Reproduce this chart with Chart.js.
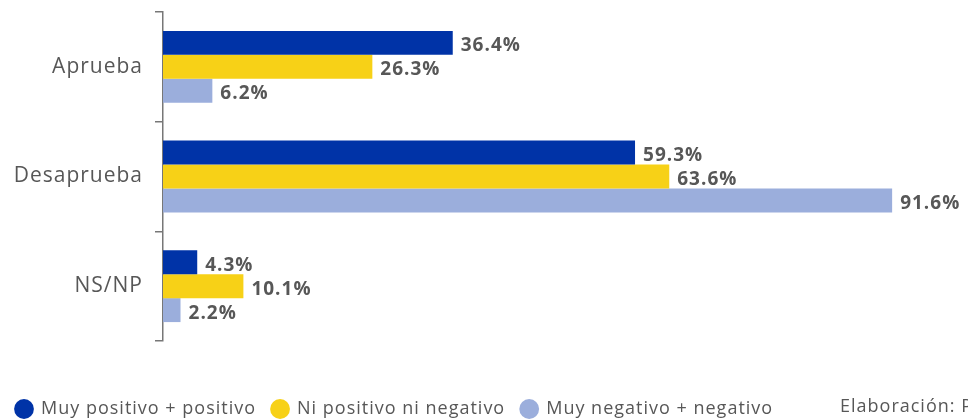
<!DOCTYPE html>
<html>
<head>
<meta charset="utf-8">
<script src="https://cdn.jsdelivr.net/npm/chart.js@4/dist/chart.umd.min.js"></script>
<style>
  html, body { margin: 0; padding: 0; background: #ffffff; }
  #wrap { width: 968px; height: 419px; position: relative; }
</style>
</head>
<body>
<div id="wrap"><canvas id="c" width="968" height="419"></canvas></div>
<script>
const categories = ['Aprueba', 'Desaprueba', 'NS/NP'];
const seriesNames = ['Muy positivo + positivo', 'Ni positivo ni negativo', 'Muy negativo + negativo'];
const muyPositivo = [36.4, 59.3, 4.3];
const niPositivo = [26.3, 63.6, 10.1];
const muyNegativo = [6.2, 91.6, 2.2];
const sourceText = 'Elaboración: P';

const colors = ['#0033A7', '#F7D117', '#9BAEDC'];
const textColor = '#575757';

const spacing = {
  id: 'spacing',
  beforeLayout(chart) { chart.ctx.letterSpacing = '1px'; },
  beforeDraw(chart) { chart.ctx.letterSpacing = '1px'; }
};

const valueLabels = {
  id: 'valueLabels',
  afterDatasetsDraw(chart) {
    const ctx = chart.ctx;
    ctx.save();
    ctx.font = 'bold 19px "Open Sans"';
    ctx.fillStyle = textColor;
    ctx.textAlign = 'left';
    ctx.textBaseline = 'middle';
    chart.data.datasets.forEach((ds, i) => {
      const meta = chart.getDatasetMeta(i);
      meta.data.forEach((bar, j) => {
        const v = ds.data[j];
        ctx.fillText(v.toFixed(1) + '%', bar.x + 8, bar.y + 3);
      });
    });
    ctx.restore();
  }
};

const sourcePlugin = {
  id: 'sourcePlugin',
  afterDraw(chart) {
    const ctx = chart.ctx;
    ctx.save();
    ctx.font = '18px "Open Sans"';
    ctx.fillStyle = textColor;
    ctx.textBaseline = 'middle';
    ctx.fillText(sourceText, 840, 407);
    ctx.restore();
  }
};

new Chart(document.getElementById('c'), {
  type: 'bar',
  data: {
    labels: categories,
    datasets: [
      { label: seriesNames[0], data: muyPositivo, backgroundColor: colors[0] },
      { label: seriesNames[1], data: niPositivo, backgroundColor: colors[1] },
      { label: seriesNames[2], data: muyNegativo, backgroundColor: colors[2] }
    ]
  },
  options: {
    indexAxis: 'y',
    responsive: false,
    animation: false,
    devicePixelRatio: 1,
    datasets: { bar: { barPercentage: 1, categoryPercentage: 0.655 } },
    layout: { padding: { top: 12, right: 9, left: 0, bottom: -9 } },
    scales: {
      x: {
        display: true, min: 0, max: 100,
        afterFit(scale) { scale.height = 43; },
        grid: { display: false }, border: { display: false }, ticks: { display: false }
      },
      y: {
        afterFit(scale) { scale.width = 163; scale.paddingTop = 0; scale.paddingBottom = 0; },
        border: { display: true, color: '#777777', width: 1.5 },
        grid: { display: true, drawOnChartArea: false, drawTicks: true, tickLength: 8, color: '#777777', lineWidth: 1.5, offset: true },
        ticks: { color: textColor, font: { family: 'Open Sans', size: 21 }, padding: 12 }
      }
    },
    plugins: {
      tooltip: { enabled: false },
      legend: {
        position: 'bottom',
        align: 'start',
        labels: {
          usePointStyle: true,
          pointStyle: 'circle',
          boxWidth: 16,
          boxHeight: 14,
          color: textColor,
          font: { family: 'Open Sans', size: 18 },
          padding: 16
        }
      }
    }
  },
  plugins: [spacing, valueLabels, sourcePlugin]
});
</script>
</body>
</html>
